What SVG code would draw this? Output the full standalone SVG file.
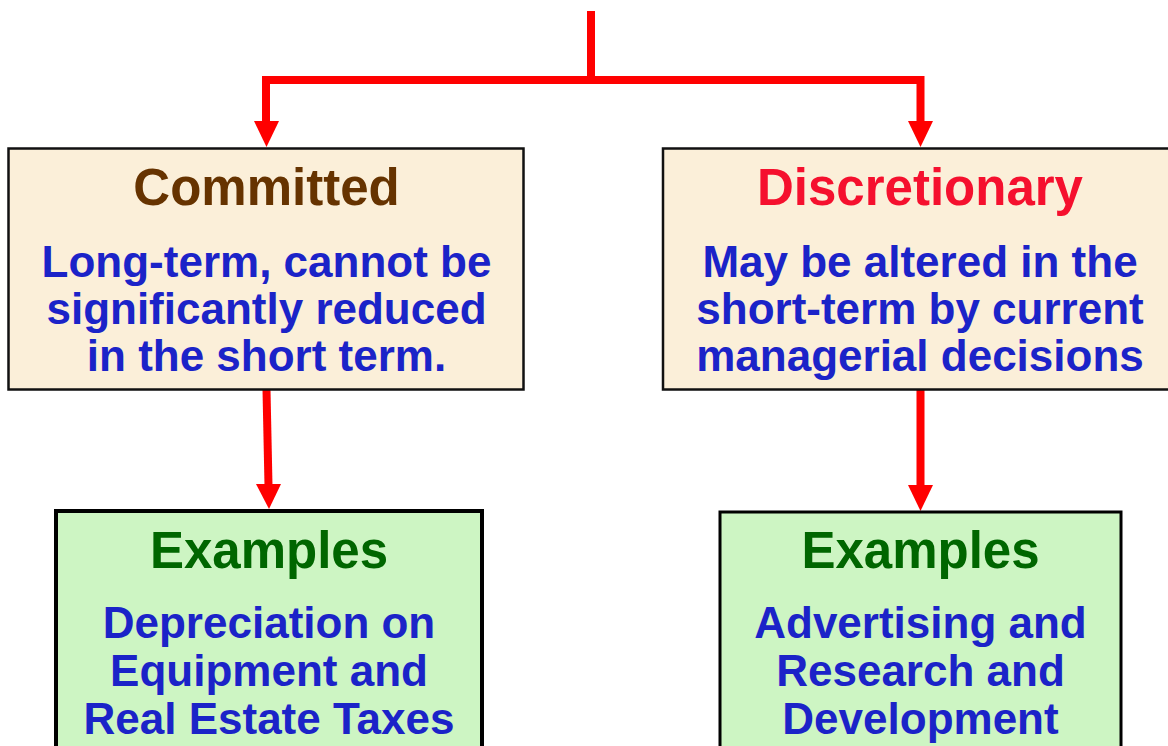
<svg xmlns="http://www.w3.org/2000/svg" width="1168" height="746" viewBox="0 0 1168 746">
  <style>
    .t { font-family: "Liberation Sans", Arial, sans-serif; font-weight: bold; text-anchor: middle; }
    .title { font-size: 51px; }
    .body { font-size: 44px; fill: #1b23c8; }
    .beige { fill: #fbefd9; stroke: #111; stroke-width: 2.5; }
    .green { fill: #cdf5c3; stroke: #000; }
    .conn { stroke: #ff0000; stroke-width: 8; fill: none; }
    .head { fill: #ff0000; }
  </style>
  <rect width="1168" height="746" fill="#ffffff"/>
  <g id="connectors">
    <path class="conn" d="M591 11 V80"/>
    <path class="conn" d="M266 122 V80 H920.5 V122"/>
    <polygon class="head" points="254,121 279,121 266.5,147"/>
    <polygon class="head" points="908,121 933,121 920.5,147"/>
    <path class="conn" d="M266.5 390 L268.5 486"/>
    <polygon class="head" points="256,484 281,484 269,509"/>
    <path class="conn" d="M920.5 390 V487"/>
    <polygon class="head" points="908,485 933,485 920.5,511"/>
  </g>
  <g id="committed">
    <rect class="beige" x="8.5" y="148.5" width="515" height="241"/>
    <text class="t title" x="266.5" y="205" fill="#663300">Committed</text>
    <text class="t body" x="266.5" y="277">Long-term, cannot be</text>
    <text class="t body" x="266.5" y="324">significantly reduced</text>
    <text class="t body" x="266.5" y="371">in the short term.</text>
  </g>
  <g id="discretionary">
    <rect class="beige" x="663" y="148.5" width="520" height="241"/>
    <text class="t title" x="920" y="205" fill="#f5102e">Discretionary</text>
    <text class="t body" x="920" y="277">May be altered in the</text>
    <text class="t body" x="920" y="324">short-term by current</text>
    <text class="t body" x="920" y="371">managerial decisions</text>
  </g>
  <g id="examples-committed">
    <rect class="green" x="56" y="511" width="426" height="250" stroke-width="4"/>
    <text class="t title" x="269" y="568" fill="#006600">Examples</text>
    <text class="t body" x="269" y="638">Depreciation on</text>
    <text class="t body" x="269" y="686">Equipment and</text>
    <text class="t body" x="269" y="734">Real Estate Taxes</text>
  </g>
  <g id="examples-discretionary">
    <rect class="green" x="720" y="512" width="401" height="250" stroke-width="3"/>
    <text class="t title" x="920.5" y="568" fill="#006600">Examples</text>
    <text class="t body" x="920.5" y="638">Advertising and</text>
    <text class="t body" x="920.5" y="686">Research and</text>
    <text class="t body" x="920.5" y="734">Development</text>
  </g>
</svg>
